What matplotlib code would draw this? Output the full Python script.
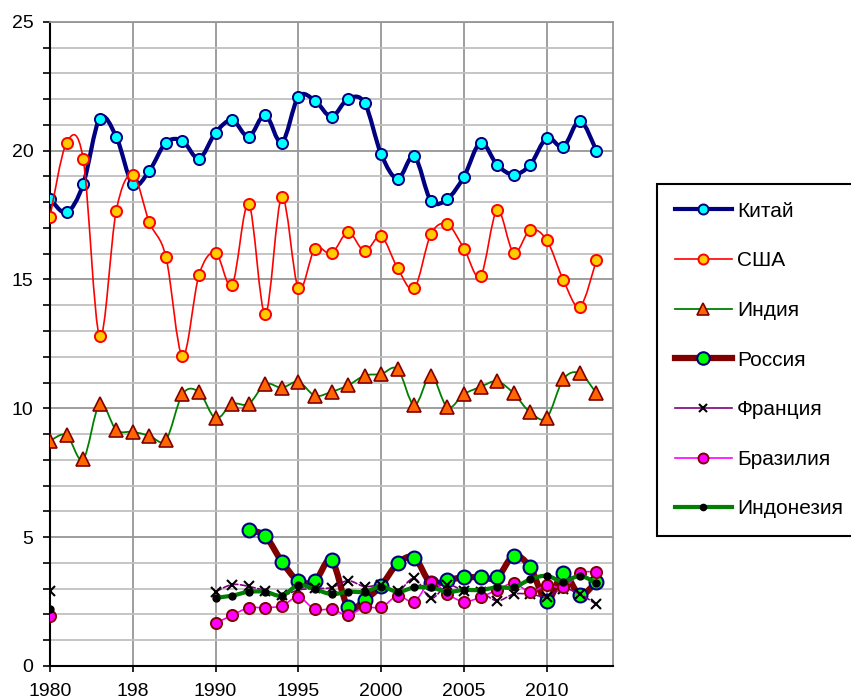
import numpy as np
import matplotlib
matplotlib.use('Agg')
import matplotlib.pyplot as plt
from matplotlib.path import Path
from matplotlib.patches import PathPatch
from matplotlib.lines import Line2D
from matplotlib.ticker import MultipleLocator, FixedLocator, FixedFormatter

plt.rcParams['font.family'] = ['Liberation Sans', 'DejaVu Sans']

nan = np.nan
years = list(range(1980, 2014))

china = [18.13, 17.6, 18.69, 21.24, 20.54, 18.69, 19.22, 20.31, 20.38, 19.69,
         20.7, 21.18, 20.54, 21.39, 20.31, 22.09, 21.94, 21.32, 22.01, 21.85,
         19.86, 18.91, 19.78, 18.06, 18.13, 18.99, 20.31, 19.45, 19.07, 19.45,
         20.49, 20.15, 21.16, 20.0]
usa = [17.44, 20.31, 19.69, 12.79, 17.67, 19.07, 17.22, 15.88, 12.02, 15.18,
       16.04, 14.8, 17.93, 13.65, 18.21, 14.66, 16.2, 16.01, 16.83, 16.1,
       16.67, 15.43, 14.66, 16.75, 17.14, 16.2, 15.13, 17.68, 16.04, 16.92,
       16.53, 14.98, 13.94, 15.75]
india = [8.74, 8.96, 8.02, 10.17, 9.16, 9.09, 8.94, 8.77, 10.55, 10.63,
         9.61, 10.17, 10.17, 10.94, 10.8, 11.03, 10.49, 10.64, 10.89, 11.27,
         11.33, 11.52, 10.12, 11.27, 10.04, 10.55, 10.83, 11.05, 10.58, 9.84,
         9.64, 11.13, 11.36, 10.58]
russia = [nan] * 12 + [5.28, 5.04, 4.05, 3.3, 3.3, 4.11, 2.28, 2.56,
                       3.12, 3.98, 4.2, 3.21, 3.34, 3.44, 3.44, 3.44, 4.27, 3.83,
                       2.52, 3.6, 2.76, 3.27]
france = [2.92] + [nan] * 9 + [2.88, 3.16, 3.09, 2.92, 2.74, 2.95, 3.01, 3.04, 3.31, 3.08,
                               3.14, 2.9, 3.4, 2.63, 3.14, 2.92, 2.87, 2.53, 2.79, 2.79,
                               2.69, 3.0, 2.79, 2.39]
brazil = [1.95] + [nan] * 9 + [1.66, 1.97, 2.26, 2.26, 2.34, 2.67, 2.2, 2.2, 1.98, 2.28,
                               2.28, 2.72, 2.5, 3.27, 2.79, 2.5, 2.67, 2.95, 3.21, 2.88,
                               3.14, 3.05, 3.6, 3.66]
indonesia = [2.2] + [nan] * 9 + [2.65, 2.73, 2.88, 2.88, 2.73, 3.14, 2.98, 2.79, 2.88, 2.88,
                                 3.08, 2.88, 3.05, 3.05, 2.88, 2.95, 2.95, 3.05, 3.05, 3.36,
                                 3.5, 3.27, 3.5, 3.21]

x_ticks = [1980, 1985, 1990, 1995, 2000, 2005, 2010]
x_ticklabels = ['1980', '198', '1990', '1995', '2000', '2005', '2010']

series = [
    # name, values, line color, lw, linestyle, marker, ms, face, edge, mew
    ('Китай', china, '#000080', 3.0, '-', 'o', 8, '#00FFFF', '#000080', 1.4),
    ('США', usa, '#FF0000', 1.2, '-', 'o', 8, '#FFCC00', '#FF0000', 1.4),
    ('Индия', india, '#008000', 1.3, '-', '^', 10, '#FF6600', '#800000', 1.2),
    ('Россия', russia, '#800000', 4.5, '-', 'o', 10, '#00FF00', '#000080', 1.5),
    ('Франция', france, '#800080', 1.2, '--', 'x', 6.5, 'black', 'black', 1.5),
    ('Бразилия', brazil, '#FF00FF', 1.2, '-', 'o', 8, '#FF00FF', '#800000', 1.4),
    ('Индонезия', indonesia, '#008000', 3.0, '-', 'o', 5, 'black', 'black', 1.0),
]


def smooth_path(xs, ys):
    # сглаженная линия как в Excel (кривые Безье через точки)
    verts = [(xs[0], ys[0])]
    codes = [Path.MOVETO]
    n = len(xs)
    for i in range(n - 1):
        a = max(i - 1, 0)
        b = min(i + 2, n - 1)
        c1 = (xs[i] + (xs[i + 1] - xs[a]) / 6, ys[i] + (ys[i + 1] - ys[a]) / 6)
        c2 = (xs[i + 1] - (xs[b] - xs[i]) / 6, ys[i + 1] - (ys[b] - ys[i]) / 6)
        verts += [c1, c2, (xs[i + 1], ys[i + 1])]
        codes += [Path.CURVE4] * 3
    return Path(verts, codes)


def runs(xs, ys):
    out, cur = [], []
    for x, y in zip(xs, ys):
        if np.isnan(y):
            if cur:
                out.append(cur)
            cur = []
        else:
            cur.append((x, y))
    if cur:
        out.append(cur)
    return out


fig = plt.figure(figsize=(8.51, 6.99), dpi=100)
ax = fig.add_axes([50 / 851, 1 - 666 / 699, (613 - 50) / 851, (666 - 21.8) / 699])

handles = []
z = 3
for name, vals, lc, lw, ls, mk, ms, fc, ec, mew in series:
    for seg in runs(years, vals):
        sx = [p[0] for p in seg]
        sy = [p[1] for p in seg]
        if len(seg) > 1:
            ax.add_patch(PathPatch(smooth_path(sx, sy), fill=False, edgecolor=lc,
                                   lw=lw, linestyle=ls, zorder=z, capstyle='round'))
        ax.plot(sx, sy, linestyle='none', marker=mk, markersize=ms,
                markerfacecolor=fc, markeredgecolor=ec, markeredgewidth=mew,
                zorder=z + 0.5)
    z += 1
    handles.append(Line2D([], [], color=lc, lw=lw, linestyle='-', marker=mk,
                          markersize=ms * 0.9, markerfacecolor=fc, markeredgecolor=ec,
                          markeredgewidth=mew, label=name))

ax.set_xlim(1980, 2014)
ax.set_ylim(0, 25)

ax.yaxis.set_major_locator(MultipleLocator(5))
ax.yaxis.set_minor_locator(MultipleLocator(1))
ax.xaxis.set_major_locator(FixedLocator(x_ticks))
ax.xaxis.set_major_formatter(FixedFormatter(x_ticklabels))

ax.grid(which='minor', axis='y', color='#C0C0C0', lw=1.3)
ax.grid(which='major', axis='y', color='#969696', lw=1.3)
ax.grid(which='major', axis='x', color='#969696', lw=1.3)
ax.set_axisbelow(True)

ax.tick_params(axis='y', which='both', direction='out', length=5, width=1.2,
               color='black', labelsize=14, pad=7)
ax.tick_params(axis='x', which='both', direction='out', length=4.5, width=1.2,
               color='black', labelsize=14, pad=8)
ax.tick_params(axis='x', which='minor', length=0)

for s in ['left', 'bottom']:
    ax.spines[s].set_color('black')
    ax.spines[s].set_linewidth(1.5)
for s in ['top', 'right']:
    ax.spines[s].set_color('#969696')
    ax.spines[s].set_linewidth(1.3)

leg = fig.legend(handles=handles, loc='upper left',
                 bbox_to_anchor=(657 / 851, 1 - 184 / 699),
                 bbox_transform=fig.transFigure, fontsize=15, frameon=True,
                 fancybox=False, shadow=False, borderpad=0.85, labelspacing=1.47,
                 handlelength=2.75, handletextpad=0.25, borderaxespad=0)
leg.get_frame().set_edgecolor('black')
leg.get_frame().set_linewidth(1.5)
leg.get_frame().set_facecolor('white')
leg.get_frame().set_alpha(1)

fig.savefig('out.png', dpi=100)
